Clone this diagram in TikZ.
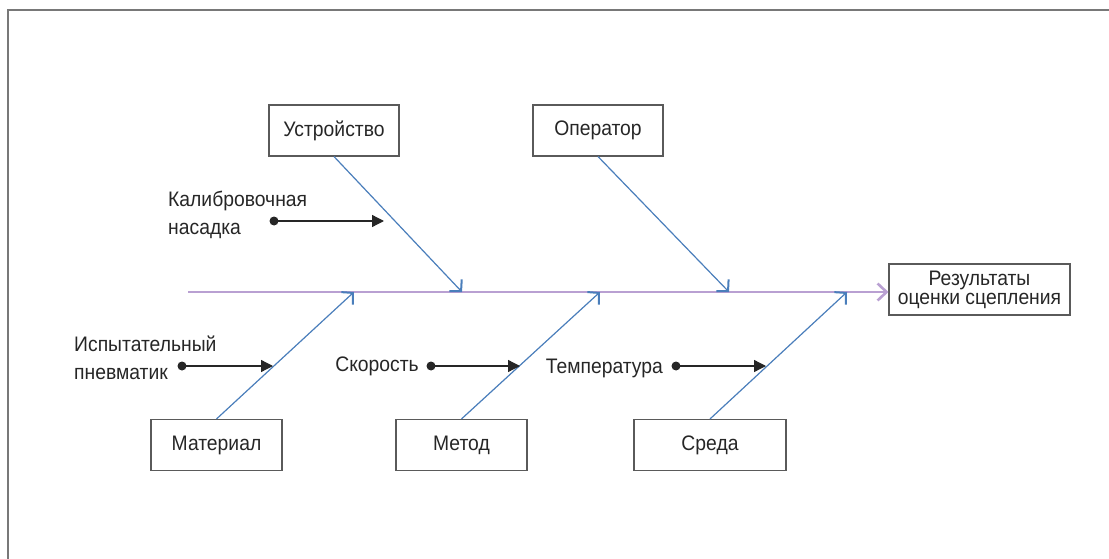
\documentclass[tikz,border=0pt]{standalone}
\usepackage{fontspec}
\setmainfont{Liberation Sans}[FakeStretch=0.92]
\usetikzlibrary{arrows.meta}
\definecolor{bonec}{RGB}{74,126,187}
\definecolor{spinec}{RGB}{185,160,210}
\definecolor{ink}{RGB}{38,38,38}
\definecolor{boxline}{RGB}{90,90,90}
\definecolor{framec}{RGB}{120,120,120}
\newcommand{\figfont}{\fontsize{21}{27}\selectfont}
\newcommand{\resfont}{\fontsize{21}{19}\selectfont}
\newcommand{\subfont}{\fontsize{21}{28}\selectfont}
\begin{document}
\begin{tikzpicture}[x=1pt,y=-1pt,
  causebox/.style={draw=boxline,line width=1.1pt,minimum height=51pt,inner sep=0pt,text=ink,font=\figfont},
  bone/.style={draw=bonec,line width=1.2pt,-{Straight Barb[length=8pt,width=17pt,line width=2pt]}},
  spine/.style={draw=spinec,line width=2.8pt,-{Straight Barb[length=9pt,width=17pt,line width=2.6pt]}},
  sub/.style={draw=ink,line width=1.3pt,-{Triangle[length=12pt,width=12pt]}},
  dot/.style={circle,fill=ink,inner sep=0pt,minimum size=9pt},
  lbl/.style={text=ink,font=\figfont,inner sep=0pt}]
\useasboundingbox (0,0) rectangle (1109,559);
\draw[framec,line width=1.4pt] (8,559) -- (8,10) -- (1109,10);

% cause boxes
\node[causebox,minimum width=130pt] (dev) at (334,130.5) {Устройство};
\node[causebox,minimum width=130pt] (op) at (598,130.5) {Оператор};
\node[causebox,minimum width=131pt] (mat) at (216.5,445) {Материал};
\node[causebox,minimum width=131pt] (met) at (461.5,445) {Метод};
\node[causebox,minimum width=152pt] (env) at (710,445) {Среда};
\node[causebox,minimum width=181pt,align=center,font=\resfont] (res) at (979.5,289.5) {Результаты\\оценки сцепления};

% spine
\coordinate (s0) at (188,292);
\draw[spine] (s0) -- (s0 -| res.west);

% bones
\coordinate (tdev) at (462,292);
\coordinate (top) at (729,292);
\coordinate (tmat) at (354,292);
\coordinate (tmet) at (600,292);
\coordinate (tenv) at (847,292);
\draw[bone] (dev.south) -- (tdev);
\draw[bone] (op.south) -- (top);
\draw[bone] (mat.north) -- (tmat);
\draw[bone] (met.north) -- (tmet);
\draw[bone] (env.north) -- (tenv);

% sub-causes
\node[dot] (dcal) at (274,221) {};
\coordinate (ecal) at (384,221);
\draw[sub] (dcal.center) -- (ecal);
\node[lbl,anchor=west,align=left,font=\subfont] (lcal) at (168,215) {Калибровочная\\насадка};

\node[dot] (disp) at (182,366) {};
\coordinate (eisp) at (273,366);
\draw[sub] (disp.center) -- (eisp);
\node[lbl,anchor=west,align=left,font=\subfont] (lisp) at (74,358) {Испытательный\\пневматик};

\node[dot] (dsko) at (431,366) {};
\coordinate (esko) at (520,366);
\draw[sub] (dsko.center) -- (esko);
\node[lbl,anchor=base east] (lsko) at (419,371) {Скорость};

\node[dot] (dtem) at (676,366) {};
\coordinate (etem) at (766,366);
\draw[sub] (dtem.center) -- (etem);
\node[lbl,anchor=base east] (ltem) at (663,373) {Температура};
\end{tikzpicture}
\end{document}
